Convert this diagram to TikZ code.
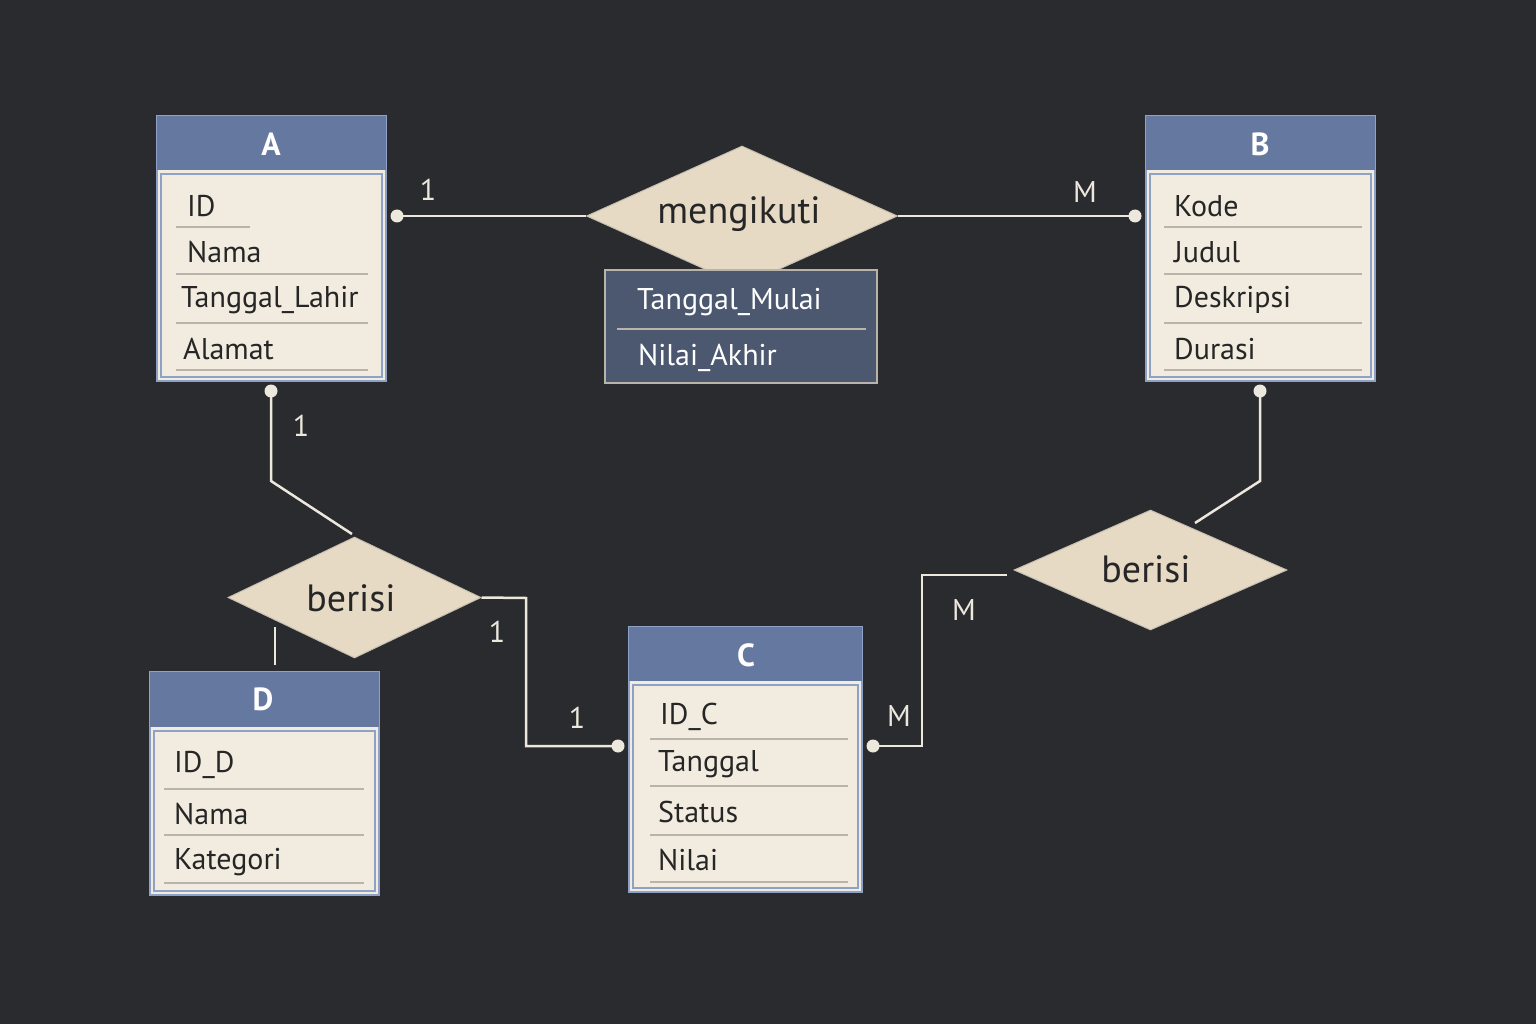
\documentclass[tikz,border=0pt]{standalone}
\usepackage{fontspec}
\setmainfont{PT Sans}
\usetikzlibrary{shapes.geometric}
\definecolor{bg}{HTML}{2A2B2E}
\definecolor{hdr}{HTML}{6579A0}
\definecolor{bord}{HTML}{8EA2C8}
\definecolor{body}{HTML}{F1ECDF}
\definecolor{sep}{HTML}{B8B4AA}
\definecolor{dia}{HTML}{E6DAC5}
\definecolor{attr}{HTML}{4B5870}
\definecolor{ln}{HTML}{ECE8DE}
\begin{document}
\begin{tikzpicture}[x=1pt,y=-1pt,
  box/.style={draw=bord,line width=2.5pt,fill=body,inner sep=0},
  hdrs/.style={fill=hdr},
  title/.style={text=white,font=\bfseries\fontsize{32}{34}\selectfont},
  row/.style={anchor=west,text=black!85,font=\fontsize{30}{32}\selectfont,inner sep=0},
  sepl/.style={draw=sep,line width=1.2pt},
  rel/.style={diamond,draw=dia!70!gray,line width=1pt,fill=dia,inner sep=0,font=\fontsize{38}{40}\selectfont,text=black!85},
  con/.style={draw=ln,line width=2.5pt},
  dot/.style={circle,fill=ln,inner sep=0,minimum size=13pt},
  card/.style={text=ln,font=\fontsize{30}{32}\selectfont}]
\fill[bg] (0,0) rectangle (1536,1024);
\useasboundingbox (0,0) rectangle (1536,1024);
% Entity A
\node[box,minimum width=229pt,minimum height=265pt] (A) at (271.5,248.5) {};
\fill[hdr] (157,116) rectangle (386,170);
\draw[bord,line width=1.5pt] (161,174) rectangle (382,377);
\node[title] at (271,144) {A};
\node[row] at (187,206) {ID}; \draw[sepl] (176,227)--(250,227);
\node[row] at (187,252) {Nama}; \draw[sepl] (176,274)--(368,274);
\node[row] at (181,300) {Tanggal\_Lahir}; \draw[sepl] (176,323)--(368,323);
\node[row] at (183,349) {Alamat}; \draw[sepl] (176,370)--(368,370);
% Entity B
\node[box,minimum width=229pt,minimum height=265pt] (B) at (1260.5,248.5) {};
\fill[hdr] (1146,116) rectangle (1375,170);
\draw[bord,line width=1.5pt] (1150,174) rectangle (1371,377);
\node[title] at (1260,144) {B};
\node[row] at (1174,206) {Kode}; \draw[sepl] (1164,227)--(1362,227);
\node[row] at (1174,252) {Judul}; \draw[sepl] (1164,274)--(1362,274);
\node[row] at (1174,300) {Deskripsi}; \draw[sepl] (1164,323)--(1362,323);
\node[row] at (1174,349) {Durasi}; \draw[sepl] (1164,370)--(1362,370);
% Entity C
\node[box,minimum width=233pt,minimum height=265pt] (C) at (745.5,759.5) {};
\fill[hdr] (629,627) rectangle (862,681);
\draw[bord,line width=1.5pt] (633,685) rectangle (858,888);
\node[title] at (746,655) {C};
\node[row] at (660,717) {ID\_C}; \draw[sepl] (650,739)--(848,739);
\node[row] at (658,764) {Tanggal}; \draw[sepl] (650,786)--(848,786);
\node[row] at (658,812) {Status}; \draw[sepl] (650,835)--(848,835);
\node[row] at (658,860) {Nilai}; \draw[sepl] (650,882)--(848,882);
% Entity D
\node[box,minimum width=229pt,minimum height=223pt] (D) at (264.5,783.5) {};
\fill[hdr] (150,672) rectangle (379,727);
\draw[bord,line width=1.5pt] (154,731) rectangle (375,891);
\node[title] at (263,699) {D};
\node[row] at (174,765) {ID\_D}; \draw[sepl] (164,789)--(364,789);
\node[row] at (174,814) {Nama}; \draw[sepl] (164,835)--(364,835);
\node[row] at (174,862) {Kategori}; \draw[sepl] (164,883)--(364,883);
% Relationships
\node[rel,minimum width=311pt,minimum height=140pt] (R1) at (742,216) {};
\node[font=\fontsize{38}{40}\selectfont,text=black!85] at (739,214) {mengikuti};
\node[draw=sep,line width=2pt,fill=attr,minimum width=272pt,minimum height=113pt,inner sep=0] (AT) at (741,326.5) {};
\draw[draw=sep,line width=1.2pt] (617,329)--(866,329);
\node[row,text=white] at (637,302) {Tanggal\_Mulai};
\node[row,text=white] at (638,358) {Nilai\_Akhir};
\node[rel,minimum width=253pt,minimum height=121pt] (R2) at (354.5,597.5) {};
\node[font=\fontsize{38}{40}\selectfont,text=black!85] at (351,598) {berisi};
\node[rel,minimum width=273pt,minimum height=120pt] (R3) at (1150.5,570) {};
\node[font=\fontsize{38}{40}\selectfont,text=black!85] at (1146,569) {berisi};
% Connectors
\coordinate (a1) at (397,216); \coordinate (b1) at (1135,216);
\draw[con] (a1) -- (R1.west); \draw[con] (R1.east) -- (b1);
\node[dot] at (a1) {}; \node[dot] at (b1) {};
\node[card] at (428,190) {1}; \node[card] at (1085,192) {M};
\coordinate (a2) at (271,391);
\draw[con] (a2) -- (271,481) -- (352,534);
\node[dot] at (a2) {}; \node[card] at (301,426) {1};
\draw[con] (275,627) -- (275,665);
\coordinate (c1) at (618,746);
\draw[con] (R2.east) -- (526,598) -- (526,746) -- (c1);
\node[dot] at (c1) {};
\node[card] at (497,632) {1}; \node[card] at (577,718) {1};
\coordinate (b2) at (1260,391);
\draw[con] (b2) -- (1260,481) -- (1195,523);
\node[dot] at (b2) {};
\coordinate (c2) at (873,746);
\draw[con] (c2) -- (922,746) -- (922,575) -- (1007,575);
\node[dot] at (c2) {};
\node[card] at (964,610) {M}; \node[card] at (899,716) {M};
\end{tikzpicture}
\end{document}
